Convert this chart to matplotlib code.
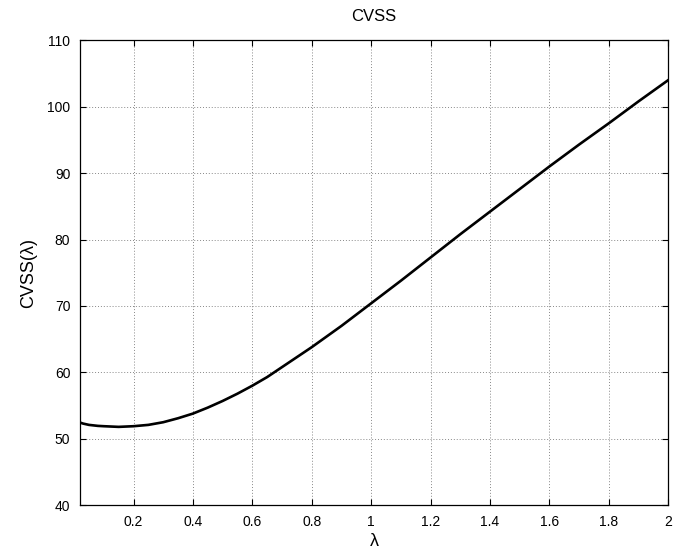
import matplotlib
matplotlib.use('Agg')
import matplotlib.pyplot as plt
import numpy as np

# curve
lam  = [0.01, 0.03, 0.05, 0.08, 0.1, 0.15, 0.2, 0.25, 0.3, 0.35, 0.4, 0.45, 0.5, 0.55,
        0.6, 0.65, 0.7, 0.75, 0.8, 0.85, 0.9, 0.95, 1.0, 1.1, 1.2, 1.3, 1.4, 1.5,
        1.6, 1.7, 1.8, 1.9, 2.0]
cvss = [52.6, 52.3, 52.1, 51.95, 51.9, 51.8, 51.9, 52.1, 52.5, 53.1, 53.8, 54.7, 55.7, 56.8,
        58.0, 59.3, 60.8, 62.3, 63.8, 65.4, 67.0, 68.7, 70.4, 73.8, 77.3, 80.8, 84.2, 87.6,
        91.0, 94.3, 97.5, 100.8, 104.0]
xticks = [0.2, 0.4, 0.6, 0.8, 1, 1.2, 1.4, 1.6, 1.8, 2]
xticklabels = ['0.2', '0.4', '0.6', '0.8', '1', '1.2', '1.4', '1.6', '1.8', '2']
yticks = [40, 50, 60, 70, 80, 90, 100, 110]

plt.rcParams['font.family'] = ['Liberation Sans', 'DejaVu Sans']

fig = plt.figure(figsize=(6.84, 5.51), dpi=100)
ax = fig.add_axes([0.117, 0.083, 0.86, 0.844])

ax.plot(lam, cvss, color='black', lw=1.9, solid_joinstyle='round')

ax.set_xlim(0.02, 2)
ax.set_ylim(40, 110)
ax.set_xticks(xticks)
ax.set_xticklabels(xticklabels)
ax.set_yticks(yticks)
ax.tick_params(direction='in', top=True, right=True, labelsize=10, length=4, pad=7)
ax.grid(True, color='#888888', ls=(0, (1, 2)), lw=0.7)
for s in ax.spines.values():
    s.set_linewidth(0.9)

ax.set_title('CVSS', fontsize=12, pad=14)
ax.set_xlabel('λ', fontsize=13, labelpad=3)
ax.set_ylabel('CVSS(λ)', fontsize=13, labelpad=7)

fig.savefig('out.png', dpi=100)
